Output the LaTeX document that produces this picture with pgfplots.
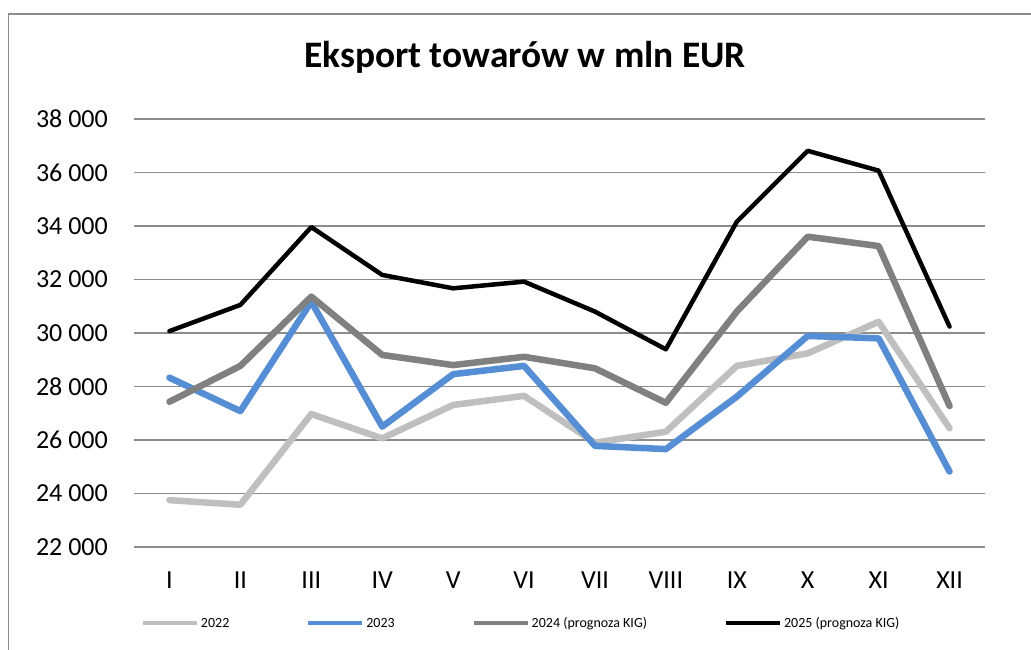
\documentclass[border=0pt]{standalone}
\usepackage{pgfplots}
\pgfplotsset{compat=1.18}
\usepackage{fontspec}
\setmainfont{Carlito}
\definecolor{c22}{RGB}{191,191,191}
\definecolor{c23}{RGB}{85,142,213}
\definecolor{c24}{RGB}{128,128,128}
\definecolor{c25}{RGB}{0,0,0}
\definecolor{gridc}{RGB}{140,140,140}
\begin{document}
\begin{tikzpicture}
\useasboundingbox (0,0) rectangle (1031bp,650bp);
\fill[white] (0,0) rectangle (1031bp,650bp);
\draw[gridc, line width=1.5bp] (8.5bp,0bp) -- (8.5bp,636bp) -- (1031bp,636bp);
\node[anchor=base, inner sep=0pt, font=\fontsize{37.4bp}{44bp}\selectfont\bfseries] at (525bp,582bp) {Eksport towarów w mln EUR};
\begin{axis}[
  at={(134bp,103bp)}, anchor=south west,
  width=851bp, height=428bp, scale only axis,
  xmin=-0.5, xmax=11.5, ymin=22000, ymax=38000,
  scaled y ticks=false,
  xtick={0,...,11},
  xticklabels={I,II,III,IV,V,VI,VII,VIII,IX,X,XI,XII},
  ytick={22000,24000,...,38000},
  yticklabels={22 000,24 000,26 000,28 000,30 000,32 000,34 000,36 000,38 000},
  axis line style={draw=none},
  major tick length=0pt,
  tick style={draw=none},
  ymajorgrids, grid style={gridc, line width=1.3bp},
  tick label style={font=\fontsize{26bp}{30bp}\selectfont, inner sep=0pt},
  yticklabel style={anchor=east, xshift=-26bp},
  xticklabel style={anchor=north, yshift=-25bp},
  legend columns=4,
  legend style={draw=none, fill=none, inner sep=0pt, outer sep=0pt,
    at={(0.00823,-0.1776)}, anchor=west,
    font=\fontsize{14bp}{16bp}\selectfont,
    column sep=0pt,
    cells={anchor=base west},
    /tikz/every odd column/.append style={column sep=0bp},
    /tikz/every even column/.append style={column sep=75bp}},
  legend image code/.code={\draw[#1, line width=4bp, line cap=butt] (0bp,4.5bp) -- (54bp,4.5bp);},
  every axis plot/.append style={line join=round, line cap=round},
]
\addplot[c22, line width=6.5bp] coordinates {(0,23750) (1,23580) (2,26970) (3,26060) (4,27310) (5,27650) (6,25900) (7,26310) (8,28770) (9,29240) (10,30420) (11,26440)};
\addlegendentry{2022}
\addplot[c23, line width=6.5bp] coordinates {(0,28330) (1,27080) (2,31170) (3,26500) (4,28460) (5,28770) (6,25780) (7,25660) (8,27620) (9,29890) (10,29800) (11,24820)};
\addlegendentry{2023}
\addplot[c24, line width=6.5bp] coordinates {(0,27430) (1,28770) (2,31360) (3,29180) (4,28800) (5,29110) (6,28680) (7,27390) (8,30800) (9,33600) (10,33250) (11,27270)};
\addlegendentry{2024 (prognoza KIG)}
\addplot[c25, line width=4.5bp] coordinates {(0,30070) (1,31050) (2,33960) (3,32170) (4,31670) (5,31920) (6,30800) (7,29390) (8,34160) (9,36810) (10,36070) (11,30240)};
\addlegendentry{2025 (prognoza KIG)}
\end{axis}
\end{tikzpicture}
\end{document}
